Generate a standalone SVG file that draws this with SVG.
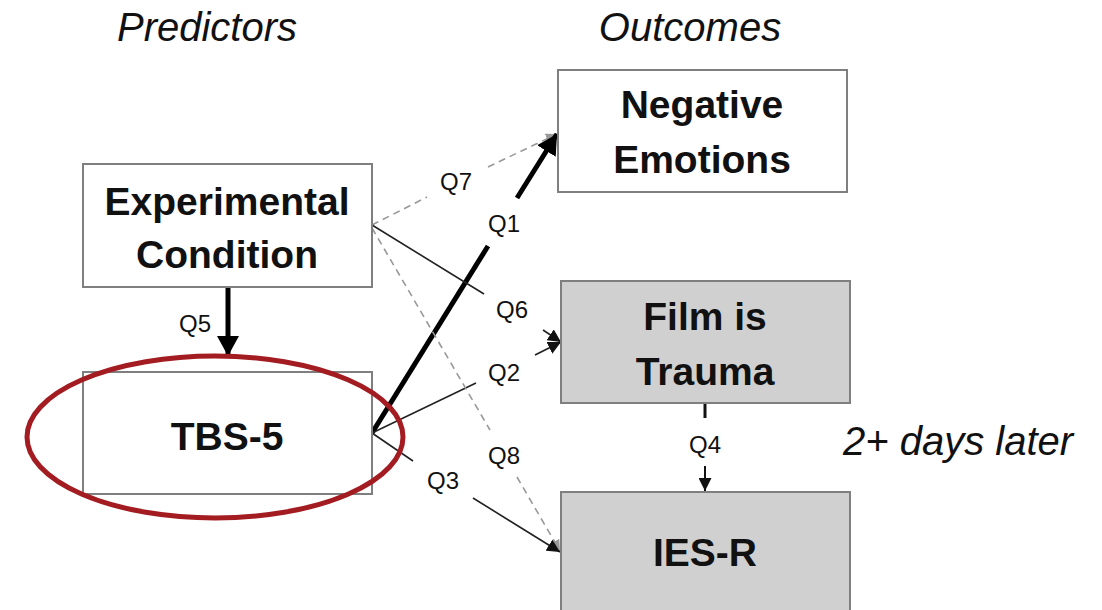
<svg xmlns="http://www.w3.org/2000/svg" width="1102" height="610" viewBox="0 0 1102 610">
<style>
.box{fill:#fff;stroke:#7f7f7f;stroke-width:2}
.gbox{fill:#d0d0d0;stroke:#7f7f7f;stroke-width:2}
.t{font-family:"Liberation Sans",Arial,sans-serif;font-weight:bold;font-size:39px;fill:#111;text-anchor:middle}
.h{font-family:"Liberation Sans",Arial,sans-serif;font-style:italic;font-size:40px;fill:#111;text-anchor:middle}
.q{font-family:"Liberation Sans",Arial,sans-serif;font-size:24px;fill:#111;text-anchor:middle}
.thin{stroke:#222;stroke-width:1.6;fill:none}
.thick{stroke:#000;stroke-width:5;fill:none}
.dash{stroke:#999;stroke-width:1.6;stroke-dasharray:7 5;fill:none}
</style>
<defs>
<marker id="ah" viewBox="0 0 10 10" refX="10" refY="5" markerWidth="13" markerHeight="13" markerUnits="userSpaceOnUse" orient="auto"><path d="M0,0 L10,5 L0,10 z" fill="#111"/></marker>
<marker id="ahg" viewBox="0 0 10 10" refX="10" refY="5" markerWidth="11" markerHeight="11" markerUnits="userSpaceOnUse" orient="auto"><path d="M0,0 L10,5 L0,10 z" fill="#999"/></marker>
<marker id="ahb" viewBox="0 0 10 10" refX="10" refY="5" markerWidth="20" markerHeight="22" markerUnits="userSpaceOnUse" orient="auto" preserveAspectRatio="none"><path d="M0,0 L10,5 L0,10 z" fill="#000"/></marker>
</defs>
<rect width="1102" height="610" fill="#fff"/>
<text class="h" x="207" y="41">Predictors</text>
<text class="h" x="690" y="41">Outcomes</text>
<text class="h" x="958" y="455">2+ days later</text>

<g id="connectors">
<line class="dash" x1="372" y1="225" x2="427" y2="197"/>
<line class="dash" x1="488" y1="167" x2="557" y2="134" marker-end="url(#ahg)"/>
<line class="thick" x1="372" y1="433" x2="488" y2="246"/>
<line class="thick" x1="517" y1="198" x2="557" y2="134" marker-end="url(#ahb)"/>
<line class="thin" x1="372" y1="225" x2="484" y2="294"/>
<line class="thin" x1="543" y1="330" x2="561" y2="342" marker-end="url(#ah)"/>
<line class="thin" x1="372" y1="433" x2="476" y2="383"/>
<line class="thin" x1="535" y1="355" x2="561" y2="342" marker-end="url(#ah)"/>
<line class="dash" x1="372" y1="228" x2="490" y2="430"/>
<line class="dash" x1="517" y1="477" x2="560" y2="551" marker-end="url(#ahg)"/>
<line class="thin" x1="372" y1="433" x2="413" y2="461"/>
<line class="thin" x1="473" y1="498" x2="560" y2="552" marker-end="url(#ah)"/>
<line class="thick" x1="228" y1="287" x2="228" y2="356" marker-end="url(#ahb)"/>
<line stroke="#111" stroke-width="3" x1="705" y1="403" x2="705" y2="418"/>
<line stroke="#111" stroke-width="2" x1="705" y1="466" x2="705" y2="491" marker-end="url(#ah)"/>
<text class="q" x="456" y="190">Q7</text>
<text class="q" x="504" y="232">Q1</text>
<text class="q" x="512" y="318">Q6</text>
<text class="q" x="504" y="381">Q2</text>
<text class="q" x="504" y="464">Q8</text>
<text class="q" x="443" y="489">Q3</text>
<text class="q" x="195" y="332">Q5</text>
<text class="q" x="705" y="453">Q4</text>
</g>

<g id="exp">
<rect class="box" x="83" y="164" width="289" height="123"/>
<text class="t" x="227" y="215">Experimental</text>
<text class="t" x="227" y="268">Condition</text>
</g>
<g id="tbs">
<rect class="box" x="83" y="372" width="289" height="122"/>
<text class="t" x="227" y="450">TBS-5</text>
</g>
<g id="neg">
<rect class="box" x="558" y="70" width="289" height="122"/>
<text class="t" x="702" y="118">Negative</text>
<text class="t" x="702" y="173">Emotions</text>
</g>
<g id="film">
<rect class="gbox" x="561" y="281" width="289" height="122"/>
<text class="t" x="705" y="330">Film is</text>
<text class="t" x="705" y="385">Trauma</text>
</g>
<g id="ies">
<rect class="gbox" x="561" y="492" width="289" height="130"/>
<text class="t" x="705" y="566">IES-R</text>
</g>
<g id="highlight">
<ellipse cx="215" cy="437" rx="188" ry="81" fill="none" stroke="#a31c21" stroke-width="5"/>
</g>
</svg>
